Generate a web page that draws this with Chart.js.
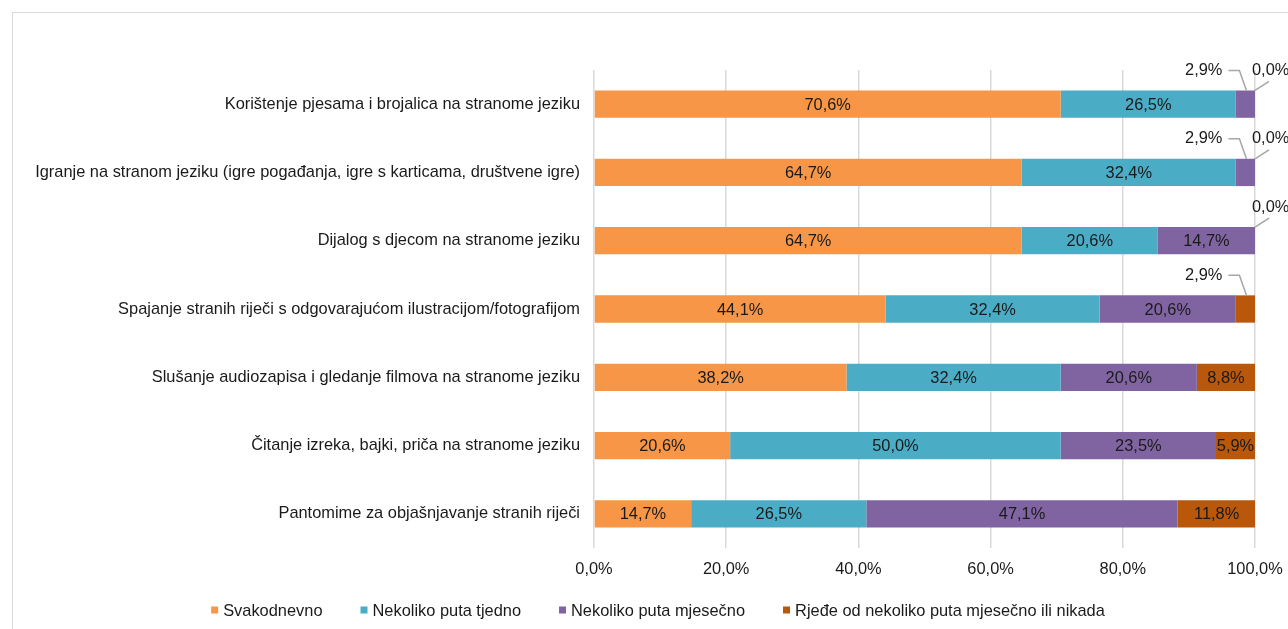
<!DOCTYPE html>
<html>
<head>
<meta charset="utf-8">
<script src="https://cdn.jsdelivr.net/npm/chart.js"></script>
<style>
  html, body { margin: 0; padding: 0; background: #fff; overflow: hidden; }
  #frame { position: absolute; left: 12px; top: 12px; width: 1320px; height: 660px; border: 1px solid #d9d9d9; }
  #c { position: absolute; left: 0; top: 0; }
</style>
</head>
<body>
<div id="frame"></div>
<canvas id="c" width="1288" height="629"></canvas>
<script>
// categories (top to bottom)
const categories = [
    'Korištenje pjesama i brojalica na stranome jeziku',
    'Igranje na stranom jeziku (igre pogađanja, igre s karticama, društvene igre)',
    'Dijalog s djecom na stranome jeziku',
    'Spajanje stranih riječi s odgovarajućom ilustracijom/fotografijom',
    'Slušanje audiozapisa i gledanje filmova na stranome jeziku',
    'Čitanje izreka, bajki, priča na stranome jeziku',
    'Pantomime za objašnjavanje stranih riječi'
];

const seriesNames = [
    'Svakodnevno',
    'Nekoliko puta tjedno',
    'Nekoliko puta mjesečno',
    'Rjeđe od nekoliko puta mjesečno ili nikada'
];

const svakodnevno = [70.6, 64.7, 64.7, 44.1, 38.2, 20.6, 14.7];
const tjedno      = [26.5, 32.4, 20.6, 32.4, 32.4, 50.0, 26.5];
const mjesecno    = [2.9, 2.9, 14.7, 20.6, 20.6, 23.5, 47.1];
const rjede       = [0.0, 0.0, 0.0, 2.9, 8.8, 5.9, 11.8];

const xTicks = [0, 20, 40, 60, 80, 100];

const colors = ['#F79646', '#4BACC6', '#8064A2', '#B9570A'];
const FONT = '"Liberation Sans", Arial, sans-serif';
const FSIZE = 16.4;

function pct(v) {
    return v.toFixed(1).replace('.', ',') + '%';
}

// labels inside the bars + small callouts
const barLabels = {
    id: 'barLabels',
    afterDatasetsDraw(chart) {
        const ctx = chart.ctx;
        ctx.save();
        ctx.font = FSIZE + 'px ' + FONT;
        ctx.fillStyle = '#1a1a1a';
        chart.data.datasets.forEach((ds, di) => {
            const meta = chart.getDatasetMeta(di);
            meta.data.forEach((el, i) => {
                const v = ds.data[i];
                const top = el.y - el.height / 2;
                if (v >= 4) {
                    ctx.textAlign = 'center';
                    ctx.textBaseline = 'middle';
                    ctx.fillText(pct(v), (el.x + el.base) / 2, el.y + 1);
                } else if (v === 0) {
                    ctx.strokeStyle = '#a6a6a6';
                    ctx.lineWidth = 1.5;
                    ctx.beginPath();
                    ctx.moveTo(el.x, top);
                    ctx.lineTo(el.x + 14, top - 9);
                    ctx.stroke();
                    ctx.textAlign = 'left';
                    ctx.textBaseline = 'middle';
                    ctx.fillText(pct(v), el.x - 3, top - 20);
                } else {
                    const cx = (el.x + el.base) / 2;
                    ctx.strokeStyle = '#a6a6a6';
                    ctx.lineWidth = 1.5;
                    ctx.beginPath();
                    ctx.moveTo(cx + 1, top);
                    ctx.lineTo(cx - 6, top - 20);
                    ctx.lineTo(cx - 17, top - 20);
                    ctx.stroke();
                    ctx.textAlign = 'right';
                    ctx.textBaseline = 'middle';
                    ctx.fillText(pct(v), cx - 23, top - 20);
                }
            });
        });
        ctx.restore();
    }
};

// legend drawn at the bottom
const bottomLegend = {
    id: 'bottomLegend',
    afterDraw(chart) {
        const ctx = chart.ctx;
        ctx.save();
        ctx.font = FSIZE + 'px ' + FONT;
        const box = 7, gapText = 5, gapItem = 38;
        const widths = chart.data.datasets.map(d => box + gapText + ctx.measureText(d.label).width);
        const total = widths.reduce((a, b) => a + b, 0) + gapItem * (widths.length - 1);
        let x = 658 - total / 2;
        const y = 610;
        chart.data.datasets.forEach((d, i) => {
            ctx.fillStyle = d.backgroundColor;
            ctx.fillRect(x, y - box / 2, box, box);
            ctx.fillStyle = '#1a1a1a';
            ctx.textAlign = 'left';
            ctx.textBaseline = 'middle';
            ctx.fillText(d.label, x + box + gapText, y + 1);
            x += widths[i] + gapItem;
        });
        ctx.restore();
    }
};

const series = [svakodnevno, tjedno, mjesecno, rjede];

new Chart(document.getElementById('c'), {
    type: 'bar',
    data: {
        labels: categories,
        datasets: series.map((s, i) => ({
            label: seriesNames[i],
            data: s,
            backgroundColor: colors[i],
            borderWidth: 0,
            barPercentage: 0.8,
            categoryPercentage: 0.5
        }))
    },
    options: {
        indexAxis: 'y',
        responsive: false,
        devicePixelRatio: 1,
        animation: false,
        layout: { padding: { top: 70, right: 33, bottom: 41, left: 0 } },
        plugins: {
            legend: { display: false },
            tooltip: { enabled: false }
        },
        scales: {
            x: {
                stacked: true,
                min: 0,
                max: 100,
                afterBuildTicks(scale) {
                    scale.ticks = xTicks.map(v => ({ value: v }));
                },
                afterFit(scale) {
                    scale.height = 40;
                    scale.paddingRight = 0;
                },
                grid: { color: '#d9d9d9', lineWidth: 1.5, drawTicks: false },
                border: { display: false },
                ticks: {
                    padding: 12,
                    color: '#1a1a1a',
                    font: { family: FONT, size: FSIZE },
                    callback: v => pct(v)
                }
            },
            y: {
                stacked: true,
                afterFit(scale) { scale.width = 594; },
                grid: { display: false, drawTicks: false },
                border: { display: false },
                ticks: {
                    padding: 14,
                    color: '#1a1a1a',
                    font: { family: FONT, size: FSIZE }
                }
            }
        }
    },
    plugins: [barLabels, bottomLegend]
});
</script>
</body>
</html>
